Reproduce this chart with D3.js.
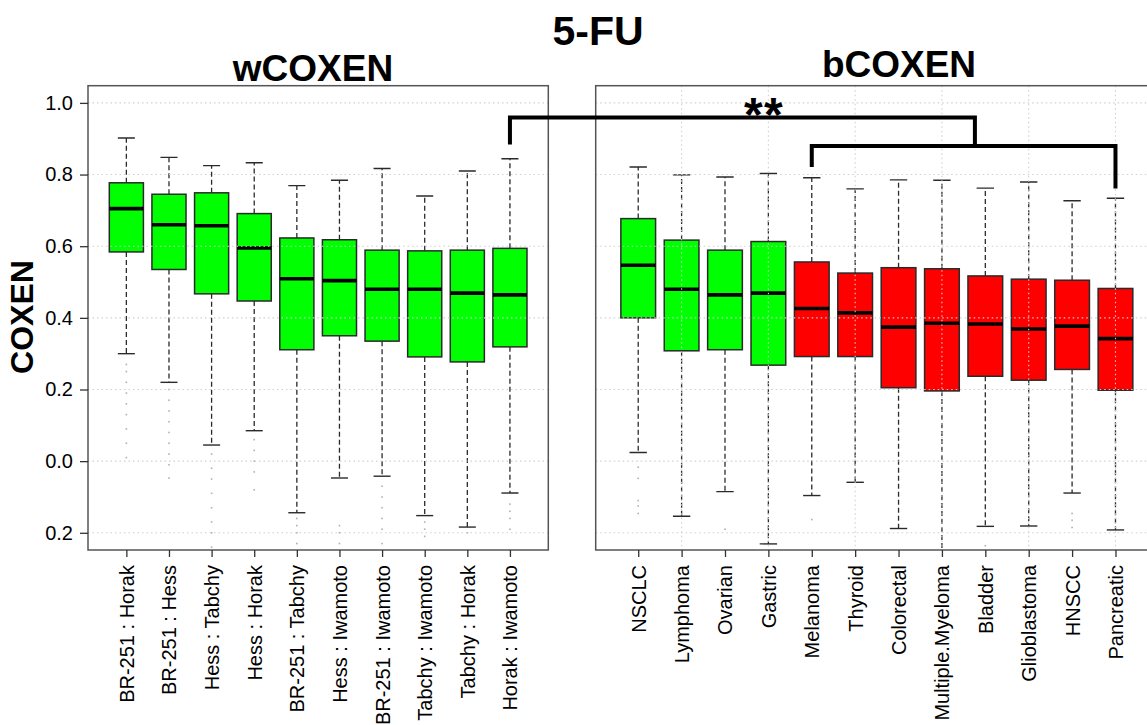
<!DOCTYPE html>
<html>
<head>
<meta charset="utf-8">
<script src="https://cdn.jsdelivr.net/npm/d3@7"></script>
<style>
  html, body { margin: 0; padding: 0; background: #fff; }
  svg { display: block; font-family: "Liberation Sans", Arial, sans-serif; }
</style>
</head>
<body>
<svg id="chart" width="1147" height="725"></svg>
<script>
// ---- wCOXEN panel: dataset pairs ----
const wCategories = ["BR-251 : Horak", "BR-251 : Hess", "Hess : Tabchy", "Hess : Horak", "BR-251 : Tabchy",
  "Hess : Iwamoto", "BR-251 : Iwamoto", "Tabchy : Iwamoto", "Tabchy : Horak", "Horak : Iwamoto"];
const wLower  = [0.300, 0.220, 0.045, 0.085, -0.144, -0.047, -0.042, -0.152, -0.184, -0.089];
const wQ1     = [0.584, 0.535, 0.467, 0.447, 0.311, 0.350, 0.335, 0.291, 0.277, 0.319];
const wMedian = [0.705, 0.660, 0.657, 0.595, 0.509, 0.504, 0.480, 0.480, 0.469, 0.464];
const wQ3     = [0.777, 0.745, 0.749, 0.691, 0.623, 0.618, 0.589, 0.587, 0.589, 0.594];
const wUpper  = [0.902, 0.848, 0.825, 0.833, 0.769, 0.784, 0.817, 0.740, 0.810, 0.844];
const wOutliers = [
  [0.27, 0.25, 0.22, 0.19, 0.16, 0.13, 0.09, 0.05, 0.01],
  [0.20, 0.17, 0.14, 0.11, 0.08, 0.05, 0.02, -0.01, -0.047],
  [0.02, -0.02, -0.05, -0.09, -0.13, -0.17, -0.20, -0.24],
  [0.06, 0.03, 0.00, -0.03, -0.08],
  [-0.16, -0.18, -0.20, -0.23],
  [-0.18, -0.20, -0.23],
  [-0.07, -0.10, -0.13, -0.16, -0.19, -0.23],
  [-0.17, -0.19, -0.21],
  [-0.20],
  [-0.12, -0.14, -0.16, -0.19]
];

// ---- bCOXEN panel: cancer types ----
const bCategories = ["NSCLC", "Lymphoma", "Ovarian", "Gastric", "Melanoma", "Thyroid", "Colorectal",
  "Multiple.Myeloma", "Bladder", "Glioblastoma", "HNSCC", "Pancreatic"];
const bGroup  = ["high", "high", "high", "high", "low", "low", "low", "low", "low", "low", "low", "low"];
const bLower  = [0.024, -0.154, -0.085, -0.231, -0.096, -0.059, -0.188, -0.270, -0.182, -0.181, -0.089, -0.192];
const bQ1     = [0.400, 0.308, 0.311, 0.268, 0.292, 0.292, 0.205, 0.196, 0.237, 0.226, 0.256, 0.198];
const bMedian = [0.547, 0.480, 0.464, 0.469, 0.426, 0.414, 0.374, 0.385, 0.383, 0.369, 0.377, 0.342];
const bQ3     = [0.677, 0.617, 0.589, 0.613, 0.556, 0.525, 0.540, 0.537, 0.517, 0.508, 0.505, 0.482];
const bUpper  = [0.821, 0.799, 0.793, 0.803, 0.791, 0.760, 0.785, 0.784, 0.762, 0.779, 0.727, 0.734];
const bOutliers = [
  [-0.017, -0.048, -0.11, -0.125, -0.146],
  [], [-0.19], [], [-0.163], [], [], [], [-0.236], [], [-0.146, -0.165, -0.185], []
];

// ---- axis ticks ----
const yTickValues = [1.0, 0.8, 0.6, 0.4, 0.2, 0.0, -0.2];
const yTickLabels = ["1.0", "0.8", "0.6", "0.4", "0.2", "0.0", "0.2"];

const svg = d3.select("#chart");
const W = 1147, H = 725;
svg.append("rect").attr("width", W).attr("height", H).attr("fill", "#fff");

const plotTop = 85.7, plotBottom = 550;
const y = d3.scaleLinear().domain([-0.248, 1.048]).range([plotBottom, plotTop]);

const xW = d3.scalePoint().domain(wCategories).range([88, 548.3]).padding(0.9);
const xB = d3.scalePoint().domain(bCategories).range([595.7, 1158]).padding(0.98);

const groupColor = d3.scaleOrdinal().domain(["high", "low"]).range(["#00ff00", "#ff0000"]);

function panel(id, x, cats, lower, q1, med, q3, upper, outliers, fillFor, vGrid) {
  const [x0, x1] = x.range();
  const g = svg.append("g");
  g.append("clipPath").attr("id", id).append("rect")
    .attr("x", x0).attr("y", plotTop).attr("width", x1 - x0).attr("height", plotBottom - plotTop);
  const body = g.append("g").attr("clip-path", `url(#${id})`);
  const bw = x.step() * 0.8;

  const rows = cats.map((c, i) => ({ c, i, lo: lower[i], q1: q1[i], md: med[i], q3: q3[i], hi: upper[i], out: outliers[i] }));

  // outliers
  rows.forEach(r => {
    body.selectAll(null).data(r.out).enter().append("rect")
      .attr("x", x(r.c) - 0.8).attr("y", d => y(d) - 0.8)
      .attr("width", 1.6).attr("height", 1.6).attr("fill", "#b0b0b0");
  });

  const box = body.selectAll("g.box").data(rows).enter().append("g").attr("class", "box");
  // whiskers
  box.append("line").attr("x1", d => x(d.c)).attr("x2", d => x(d.c))
    .attr("y1", d => y(d.q3)).attr("y2", d => y(d.hi))
    .attr("stroke", "#2a2a2a").attr("stroke-width", 1.3).attr("stroke-dasharray", "5,3");
  box.append("line").attr("x1", d => x(d.c)).attr("x2", d => x(d.c))
    .attr("y1", d => y(d.q1)).attr("y2", d => y(d.lo))
    .attr("stroke", "#2a2a2a").attr("stroke-width", 1.3).attr("stroke-dasharray", "5,3");
  // staples
  ["hi", "lo"].forEach(k => {
    box.append("line").attr("x1", d => x(d.c) - bw / 4).attr("x2", d => x(d.c) + bw / 4)
      .attr("y1", d => y(d[k])).attr("y2", d => y(d[k]))
      .attr("stroke", "#2a2a2a").attr("stroke-width", 1.4);
  });
  // boxes
  box.append("rect").attr("x", d => x(d.c) - bw / 2).attr("width", bw)
    .attr("y", d => y(d.q3)).attr("height", d => y(d.q1) - y(d.q3))
    .attr("fill", d => fillFor(d.i)).attr("stroke", "#2a2a2a").attr("stroke-width", 1.5);
  // medians
  box.append("line").attr("x1", d => x(d.c) - bw / 2).attr("x2", d => x(d.c) + bw / 2)
    .attr("y1", d => y(d.md)).attr("y2", d => y(d.md))
    .attr("stroke", "#000").attr("stroke-width", 3.6);

  // dotted grid on top of the boxes
  body.selectAll(null).data(yTickValues).enter().append("line")
    .attr("x1", x0).attr("x2", x1).attr("y1", d => y(d)).attr("y2", d => y(d))
    .attr("stroke", "#cfcfcf").attr("stroke-width", 1.1).attr("stroke-dasharray", "1.5,3");
  if (vGrid) {
    body.selectAll(null).data(cats.filter((c, i) => i % 2 === 1)).enter().append("line")
      .attr("x1", d => x(d)).attr("x2", d => x(d)).attr("y1", plotTop).attr("y2", plotBottom)
      .attr("stroke", "#cfcfcf").attr("stroke-width", 1.1).attr("stroke-dasharray", "1.5,3");
  }

  // frame
  g.append("rect").attr("x", x0).attr("y", plotTop).attr("width", x1 - x0).attr("height", plotBottom - plotTop)
    .attr("fill", "none").attr("stroke", "#555").attr("stroke-width", 1.5);

  // bottom axis with rotated labels
  const ax = g.append("g").attr("transform", `translate(0,${plotBottom})`)
    .call(d3.axisBottom(x).tickSize(7).tickSizeOuter(0));
  ax.select(".domain").remove();
  ax.selectAll(".tick line").attr("stroke", "#333").attr("stroke-width", 1.3);
  ax.selectAll(".tick text")
    .attr("transform", "rotate(-90)").attr("x", -15).attr("y", 0).attr("dy", "0.35em")
    .style("text-anchor", "end").style("font-size", "20px").attr("fill", "#000")
    .style("font-family", "'Liberation Sans', Arial, sans-serif");
  return g;
}

panel("clipW", xW, wCategories, wLower, wQ1, wMedian, wQ3, wUpper, wOutliers, () => groupColor("high"), false);
panel("clipB", xB, bCategories, bLower, bQ1, bMedian, bQ3, bUpper, bOutliers, i => groupColor(bGroup[i]), true);

// left y axis
const yAx = svg.append("g").attr("transform", "translate(88,0)")
  .call(d3.axisLeft(y).tickValues(yTickValues).tickFormat((d, i) => yTickLabels[i]).tickSize(8).tickPadding(7));
yAx.select(".domain").remove();
yAx.selectAll(".tick line").attr("stroke", "#333").attr("stroke-width", 1.3);
yAx.selectAll(".tick text").style("font-size", "20px").attr("fill", "#000")
  .style("font-family", "'Liberation Sans', Arial, sans-serif");

// significance brackets
const step = xB.step();
const joinX = xB("Multiple.Myeloma") + 0.76 * step;
const bracket = d3.line();
const bracketStyle = s => s.attr("fill", "none").attr("stroke", "#000").attr("stroke-width", 4)
  .attr("stroke-linejoin", "miter").attr("stroke-linecap", "butt");
svg.append("path").attr("d", bracket([
  [xW("Horak : Iwamoto"), y(0.884)], [xW("Horak : Iwamoto"), y(0.959)], [joinX, y(0.959)], [joinX, y(0.880)]
])).call(bracketStyle);
svg.append("path").attr("d", bracket([
  [xB("Melanoma"), y(0.821)], [xB("Melanoma"), y(0.880)], [xB("Pancreatic"), y(0.880)], [xB("Pancreatic"), y(0.761)]
])).call(bracketStyle);
const stars = svg.append("text").attr("y", 131).attr("text-anchor", "middle")
  .style("font-size", "48px").style("font-weight", "bold");
stars.append("tspan").attr("x", xB("Gastric") - 15).text("*");
stars.append("tspan").attr("x", xB("Gastric") + 5).text("*");

// titles
svg.append("text").attr("x", 598).attr("y", 45).attr("text-anchor", "middle")
  .style("font-size", "41px").style("font-weight", "bold").text("5-FU");
svg.append("text").attr("x", 313).attr("y", 81).attr("text-anchor", "middle")
  .style("font-size", "37px").style("font-weight", "bold").text("wCOXEN");
svg.append("text").attr("x", 899).attr("y", 77).attr("text-anchor", "middle")
  .style("font-size", "37px").style("font-weight", "bold").text("bCOXEN");
svg.append("text").attr("transform", "translate(33,317) rotate(-90)").attr("text-anchor", "middle")
  .style("font-size", "32px").style("font-weight", "bold").text("COXEN");
</script>
</body>
</html>
